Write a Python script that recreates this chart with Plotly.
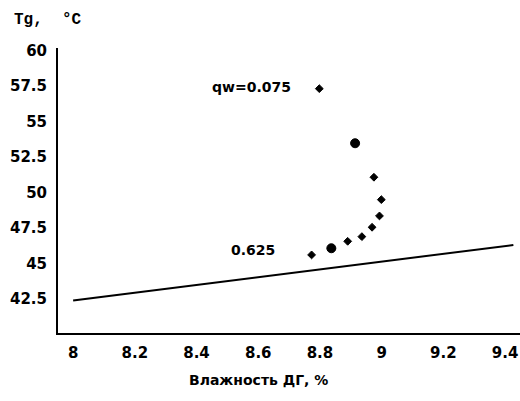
import plotly.graph_objects as go

# Data
line_x = [8.0, 9.427]
line_y = [42.37, 46.29]

pts_x = [8.798, 8.914, 8.975, 8.999, 8.993, 8.969, 8.936, 8.890, 8.837, 8.773]
pts_y = [57.32, 53.47, 51.07, 49.49, 48.34, 47.54, 46.88, 46.55, 46.06, 45.59]
pts_big = [False, True, False, False, False, False, False, False, True, False]

x_ticks = [8.0, 8.2, 8.4, 8.6, 8.8, 9.0, 9.2, 9.4]
y_ticks = [42.5, 45, 47.5, 50, 52.5, 55, 57.5, 60]

labels = ["qw=0.075", "0.625"]
labels_x = [8.577, 8.582]
labels_y = [57.46, 45.94]

x_title = "Влажность ДГ, %"
y_title = "Tg,  °C"

FONT = "DejaVu Sans"

fig = go.Figure()
fig.add_trace(go.Scatter(x=line_x, y=line_y, mode="lines",
                         line=dict(color="black", width=2), showlegend=False))
fig.add_trace(go.Scatter(
    x=pts_x, y=pts_y, mode="markers", showlegend=False,
    marker=dict(color="black", opacity=1,
                symbol=["circle" if b else "diamond" for b in pts_big],
                size=[9 if b else 6 for b in pts_big],
                line=dict(width=1, color="black"))))

for t, xx, yy in zip(labels, labels_x, labels_y):
    fig.add_annotation(x=xx, y=yy, text=t, showarrow=False,
                       xanchor="center", yanchor="middle",
                       font=dict(family=FONT, size=14, color="black", weight="bold"))

# y-axis caption (top left)
fig.add_annotation(xref="paper", yref="paper", x=(12 - 58) / 462, y=(333 - 20) / 285,
                   text=y_title, showarrow=False, xanchor="left", yanchor="middle",
                   font=dict(family="Liberation Mono", size=16, color="black", weight="bold"))

# x-axis caption
fig.add_annotation(xref="paper", yref="paper", x=(258 - 58) / 462, y=(333 - 380) / 285,
                   text=x_title, showarrow=False, xanchor="center", yanchor="middle",
                   font=dict(family=FONT, size=14, color="black", weight="bold"))

fig.update_layout(
    width=520, height=401,
    margin=dict(l=58, r=0, t=48, b=68),
    plot_bgcolor="white", paper_bgcolor="white",
    xaxis=dict(range=[7.951, 9.4485], tickvals=x_ticks, showgrid=False, zeroline=False,
               showline=True, linecolor="black", linewidth=2, ticks="",
               ticklabelstandoff=5, ticklabeloverflow="allow",
               tickfont=dict(family=FONT, size=15, color="black", weight="bold")),
    yaxis=dict(range=[40.08, 60.19], tickvals=y_ticks, showgrid=False, zeroline=False,
               showline=True, linecolor="black", linewidth=2, ticks="",
               ticklabelstandoff=6,
               tickfont=dict(family=FONT, size=15, color="black", weight="bold")),
)

fig.write_html("out.html")
